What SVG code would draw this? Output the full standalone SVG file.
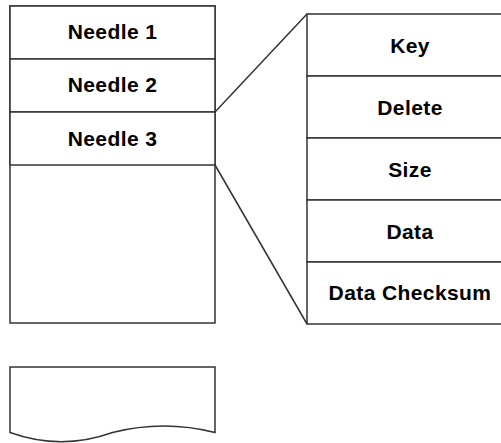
<svg xmlns="http://www.w3.org/2000/svg" width="501" height="443" viewBox="0 0 501 443">
<style>
.box{fill:#fff;stroke:#333;stroke-width:1.5}
.ln{fill:none;stroke:#333;stroke-width:1.5}
.t{font-family:"Liberation Sans",Arial,sans-serif;font-weight:bold;font-size:21px;letter-spacing:0.4px;fill:#000;text-anchor:middle}
</style>
<rect width="501" height="443" fill="#fff"/>
<g id="needles">
<rect class="box" x="10" y="6" width="205" height="317"/>
</g>
<g id="needle1"><rect class="box" x="10" y="6" width="205" height="53"/><text class="t" x="112.5" y="38.5">Needle 1</text></g>
<g id="needle2"><rect class="box" x="10" y="59" width="205" height="53"/><text class="t" x="112.5" y="91.5">Needle 2</text></g>
<g id="needle3"><rect class="box" x="10" y="112" width="205" height="53"/><text class="t" x="112.5" y="145.5">Needle 3</text></g>
<g id="key"><rect class="box" x="307" y="14" width="206" height="62"/><text class="t" x="410" y="52.5">Key</text></g>
<g id="delete"><rect class="box" x="307" y="76" width="206" height="62"/><text class="t" x="410" y="114.5">Delete</text></g>
<g id="size"><rect class="box" x="307" y="138" width="206" height="62"/><text class="t" x="410" y="176.5">Size</text></g>
<g id="data"><rect class="box" x="307" y="200" width="206" height="62"/><text class="t" x="410" y="238.5">Data</text></g>
<g id="checksum"><rect class="box" x="307" y="262" width="206" height="62"/><text class="t" x="410" y="300">Data Checksum</text></g>
<g id="document"><path class="box" d="M10,367 H215 V432.5 Q163.75,419.5 112.5,432.5 Q61.25,450.9 10,432.5 Z"/></g>
<g id="connectors">
<line class="ln" x1="215" y1="112" x2="307" y2="14"/>
<line class="ln" x1="215" y1="165" x2="307" y2="324"/>
</g>
</svg>
